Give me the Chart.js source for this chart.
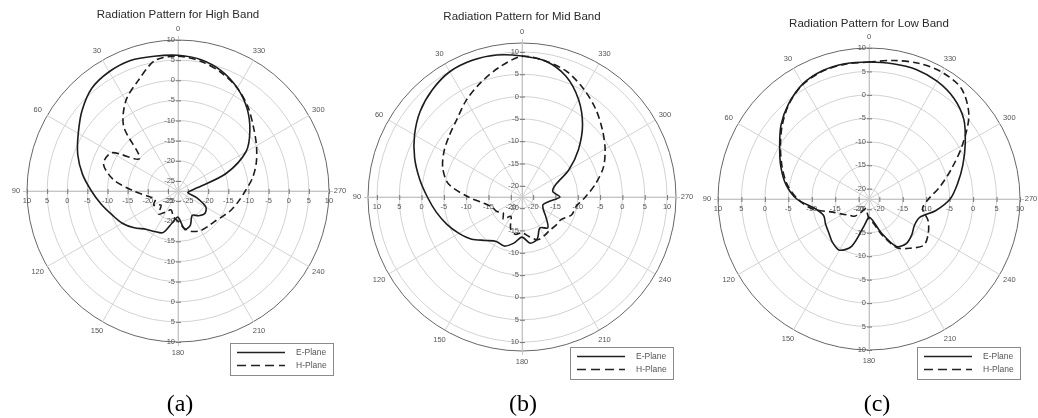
<!DOCTYPE html>
<html>
<head>
<meta charset="utf-8">
<script src="https://cdn.jsdelivr.net/npm/chart.js@4.4.0/dist/chart.umd.min.js"></script>
<style>
    body { margin: 0; background: #fff; width: 1038px; height: 418px; overflow: hidden; position: relative; }
    canvas { position: absolute; left: 0; top: 0; }
    .caption { position: absolute; top: 391px; width: 60px; margin-left: -30px; text-align: center;
               font: 24px/24px "Liberation Serif", "Times New Roman", serif; color: #000; }
</style>
</head>
<body>
<canvas id="high-chart" width="1038" height="418"></canvas>
<canvas id="mid-chart" width="1038" height="418"></canvas>
<canvas id="low-chart" width="1038" height="418"></canvas>
<div class="caption" style="left:180px">(a)</div>
<div class="caption" style="left:523px">(b)</div>
<div class="caption" style="left:877px">(c)</div>
<script>
// pattern angles, counter-clockwise from the top (0 up, 90 left, 270 right)
const angleDeg = [0, 10, 20, 30, 40, 50, 60, 70, 80, 90, 100, 110, 120, 130, 140, 150, 160, 170,
                  180, 190, 200, 210, 220, 230, 240, 250, 260, 270, 280, 290, 300, 310, 320, 330, 340, 350];
const spokeLabels = ['0', '30', '60', '90', '120', '150', '180', '210', '240', '270', '300', '330'];

// gain in dB at each angle above
const highE = [6.2, 6.5, 7.0, 6.7, 5.8, 3.6, 1.1, -1.0, -3.4, -6.0, -8.2, -10.1, -11.5, -13.3, -15.1, -15.9, -16.5, -19.5,
               -21.0, -17.8, -18.5, -20.5, -19.5, -18.8, -19.5, -22.5, -25.0, -24.5, -22.5, -14.8, -8.0, -4.2, -0.8, 2.0, 4.2, 5.6];
const highH = [6.0, 5.4, 1.6, -1.6, -6.5, -15.0, -8.5, -7.8, -11.2, -16.5, -20.0, -21.5, -20.5, -22.0, -20.0, -21.5, -22.5, -21.0,
               -20.0, -18.0, -16.8, -16.2, -16.0, -15.7, -14.8, -13.5, -12.3, -10.8, -8.7, -6.8, -5.0, -3.0, -0.4, 2.0, 3.8, 5.2];
const midE = [9.1, 9.8, 10.1, 9.9, 8.8, 7.3, 5.3, 3.1, 0.8, -1.3, -3.0, -4.6, -6.2, -7.8, -9.8, -11.0, -10.8, -12.0,
              -13.5, -12.0, -12.5, -14.5, -13.5, -15.5, -17.0, -17.5, -16.5, -14.0, -15.5, -14.5, -10.4, -6.0, -1.4, 2.8, 6.3, 8.4];
const midH = [9.0, 7.0, 4.7, 2.5, 0.2, -1.2, -2.3, -3.6, -5.8, -10.5, -14.0, -15.5, -16.0, -17.0, -16.0, -17.5, -15.0, -14.0,
              -14.5, -13.5, -12.3, -12.5, -12.8, -12.6, -12.4, -10.7, -10.2, -8.3, -5.8, -3.1, -1.0, 1.0, 3.2, 5.3, 7.3, 8.4];
const lowE = [7.0, 7.1, 6.9, 6.1, 4.4, 2.3, -0.2, -2.2, -4.2, -6.8, -10.5, -11.9, -11.5, -11.0, -10.1, -9.6, -11.5, -16.5,
              -18.3, -17.5, -14.5, -10.5, -9.8, -10.3, -11.0, -10.7, -7.8, -4.9, -3.0, -0.9, 1.5, 4.2, 5.9, 6.8, 7.2, 7.1];
const lowH = [7.0, 7.0, 6.8, 6.0, 4.3, 2.0, -0.4, -2.5, -4.5, -7.0, -10.0, -14.0, -15.7, -16.8, -17.4, -19.0, -20.0, -19.5,
              -18.0, -17.0, -14.0, -10.2, -8.5, -6.9, -7.6, -8.8, -10.6, -9.5, -6.8, -3.5, 0.8, 5.6, 8.5, 9.0, 8.6, 7.8];

// radial tick labels of each plot
const ticksHigh = [-25, -20, -15, -10, -5, 0, 5, 10];
const ticksMid = [-20, -15, -10, -5, 0, 5, 10];
const ticksLow = [-20, -15, -10, -5, 0, 5, 10];

const panels = [
    { id: 'high-chart', title: 'Radiation Pattern for High Band', e: highE, h: highH, ticks: ticksHigh,
      min: -27.5, max: 10, cx: 178, cy: 191, R: 151, titleY: 15, legend: [230, 343] },
    { id: 'mid-chart', title: 'Radiation Pattern for Mid Band', e: midE, h: midH, ticks: ticksMid,
      min: -22.5, max: 12, cx: 522, cy: 197, R: 154, titleY: 17, legend: [570, 347] },
    { id: 'low-chart', title: 'Radiation Pattern for Low Band', e: lowE, h: lowH, ticks: ticksLow,
      min: -22.2, max: 10, cx: 869, cy: 199, R: 151, titleY: 24, legend: [917, 347] }
];

// radar goes clockwise, the plots go counter-clockwise: position i shows angle (360 - a)
const posAngles = angleDeg.map(a => (360 - a) % 360);
const order = posAngles.map(a => angleDeg.indexOf(a));

const TEXT = '#555';
const FONT = '"Liberation Sans", Arial, sans-serif';

const polarDecor = {
    id: 'polarDecor',
    beforeDatasetsDraw(chart, args, p) {
        const ctx = chart.ctx;
        const scale = chart.scales.r;
        const cx = scale.xCenter, cy = scale.yCenter, R = scale.drawingArea;
        ctx.save();

        // axis cross running a little past the rim
        ctx.strokeStyle = '#c4c4c4';
        ctx.lineWidth = 1;
        ctx.beginPath();
        ctx.moveTo(cx - R - 4, cy + 0.5); ctx.lineTo(cx + R + 4, cy + 0.5);
        ctx.moveTo(cx + 0.5, cy - R - 4); ctx.lineTo(cx + 0.5, cy + R + 4);
        ctx.stroke();

        // radial ticks along both axes
        ctx.font = '7.5px ' + FONT;
        ctx.fillStyle = TEXT;
        ctx.strokeStyle = '#777';
        p.ticks.forEach(v => {
            const d = scale.getDistanceFromCenterForValue(v);
            ctx.beginPath();
            ctx.moveTo(cx - 2, cy - d + 0.5); ctx.lineTo(cx + 3, cy - d + 0.5);
            ctx.moveTo(cx - 2, cy + d + 0.5); ctx.lineTo(cx + 3, cy + d + 0.5);
            ctx.moveTo(cx - d + 0.5, cy - 2); ctx.lineTo(cx - d + 0.5, cy + 3);
            ctx.moveTo(cx + d + 0.5, cy - 2); ctx.lineTo(cx + d + 0.5, cy + 3);
            ctx.stroke();
            ctx.textAlign = 'right';
            ctx.textBaseline = 'middle';
            ctx.fillText(String(v), cx - 3, cy - d);
            ctx.fillText(String(v), cx - 3, cy + d);
            ctx.textAlign = 'center';
            ctx.fillText(String(v), cx - d, cy + 10);
            ctx.fillText(String(v), cx + d, cy + 10);
        });

        // angle labels every 30 degrees
        posAngles.forEach((a, i) => {
            const label = String(a);
            if (!spokeLabels.includes(label)) return;
            const pos = scale.getPointPosition(i, R + 11);
            ctx.textAlign = 'center';
            ctx.textBaseline = 'middle';
            ctx.fillText(label, pos.x, pos.y);
        });
        ctx.restore();
    },
    afterDraw(chart, args, p) {
        const ctx = chart.ctx;
        const scale = chart.scales.r;
        ctx.save();

        ctx.fillStyle = '#2a2a2a';
        ctx.font = '11.5px ' + FONT;
        ctx.textAlign = 'center';
        ctx.textBaseline = 'middle';
        ctx.fillText(p.title, scale.xCenter, p.titleY);

        // legend box
        const [lx, ly] = p.legend;
        ctx.fillStyle = '#fff';
        ctx.fillRect(lx, ly, 103, 32);
        ctx.strokeStyle = '#8a8a8a';
        ctx.lineWidth = 1;
        ctx.strokeRect(lx + 0.5, ly + 0.5, 103, 32);
        ctx.strokeStyle = '#222';
        ctx.lineWidth = 1.4;
        [['E-Plane', []], ['H-Plane', [9, 5]]].forEach(([name, dash], k) => {
            const y = ly + 9.5 + k * 13;
            ctx.setLineDash(dash);
            ctx.beginPath();
            ctx.moveTo(lx + 7, y); ctx.lineTo(lx + 55, y);
            ctx.stroke();
            ctx.setLineDash([]);
            ctx.fillStyle = TEXT;
            ctx.font = '8.5px ' + FONT;
            ctx.textAlign = 'left';
            ctx.fillText(name, lx + 66, y);
        });
        ctx.restore();
    }
};

function renderPanel(p) {
    const ringValues = [p.min, ...p.ticks];
    if (!ringValues.includes(p.max)) ringValues.push(p.max);

    new Chart(document.getElementById(p.id), {
        type: 'radar',
        data: {
            labels: posAngles.map(String),
            datasets: [
                { label: 'E-Plane', data: order.map(k => p.e[k]), borderColor: '#1c1c1c', borderWidth: 1.6,
                  fill: false, pointRadius: 0, tension: 0.3 },
                { label: 'H-Plane', data: order.map(k => p.h[k]), borderColor: '#1c1c1c', borderWidth: 1.6,
                  borderDash: [7, 4], fill: false, pointRadius: 0, tension: 0.3 }
            ]
        },
        options: {
            responsive: false,
            animation: false,
            layout: {
                padding: { left: p.cx - p.R, top: p.cy - p.R, right: 1038 - p.cx - p.R, bottom: 418 - p.cy - p.R }
            },
            scales: {
                r: {
                    min: p.min,
                    max: p.max,
                    startAngle: 0,
                    ticks: { display: false },
                    pointLabels: { display: false },
                    afterBuildTicks: axis => { axis.ticks = ringValues.map(v => ({ value: v })); },
                    grid: {
                        circular: true,
                        color: c => c.tick && c.tick.value === p.max ? '#666' : '#d2d2d2',
                        lineWidth: 1
                    },
                    angleLines: {
                        color: '#d2d2d2',
                        lineWidth: c => (c.index % 3 === 0 ? 1 : 0)
                    }
                }
            },
            plugins: {
                legend: { display: false },
                tooltip: { enabled: false },
                polarDecor: { title: p.title, titleY: p.titleY, ticks: p.ticks, legend: p.legend }
            }
        },
        plugins: [polarDecor]
    });
}

panels.forEach(renderPanel);
</script>
</body>
</html>
